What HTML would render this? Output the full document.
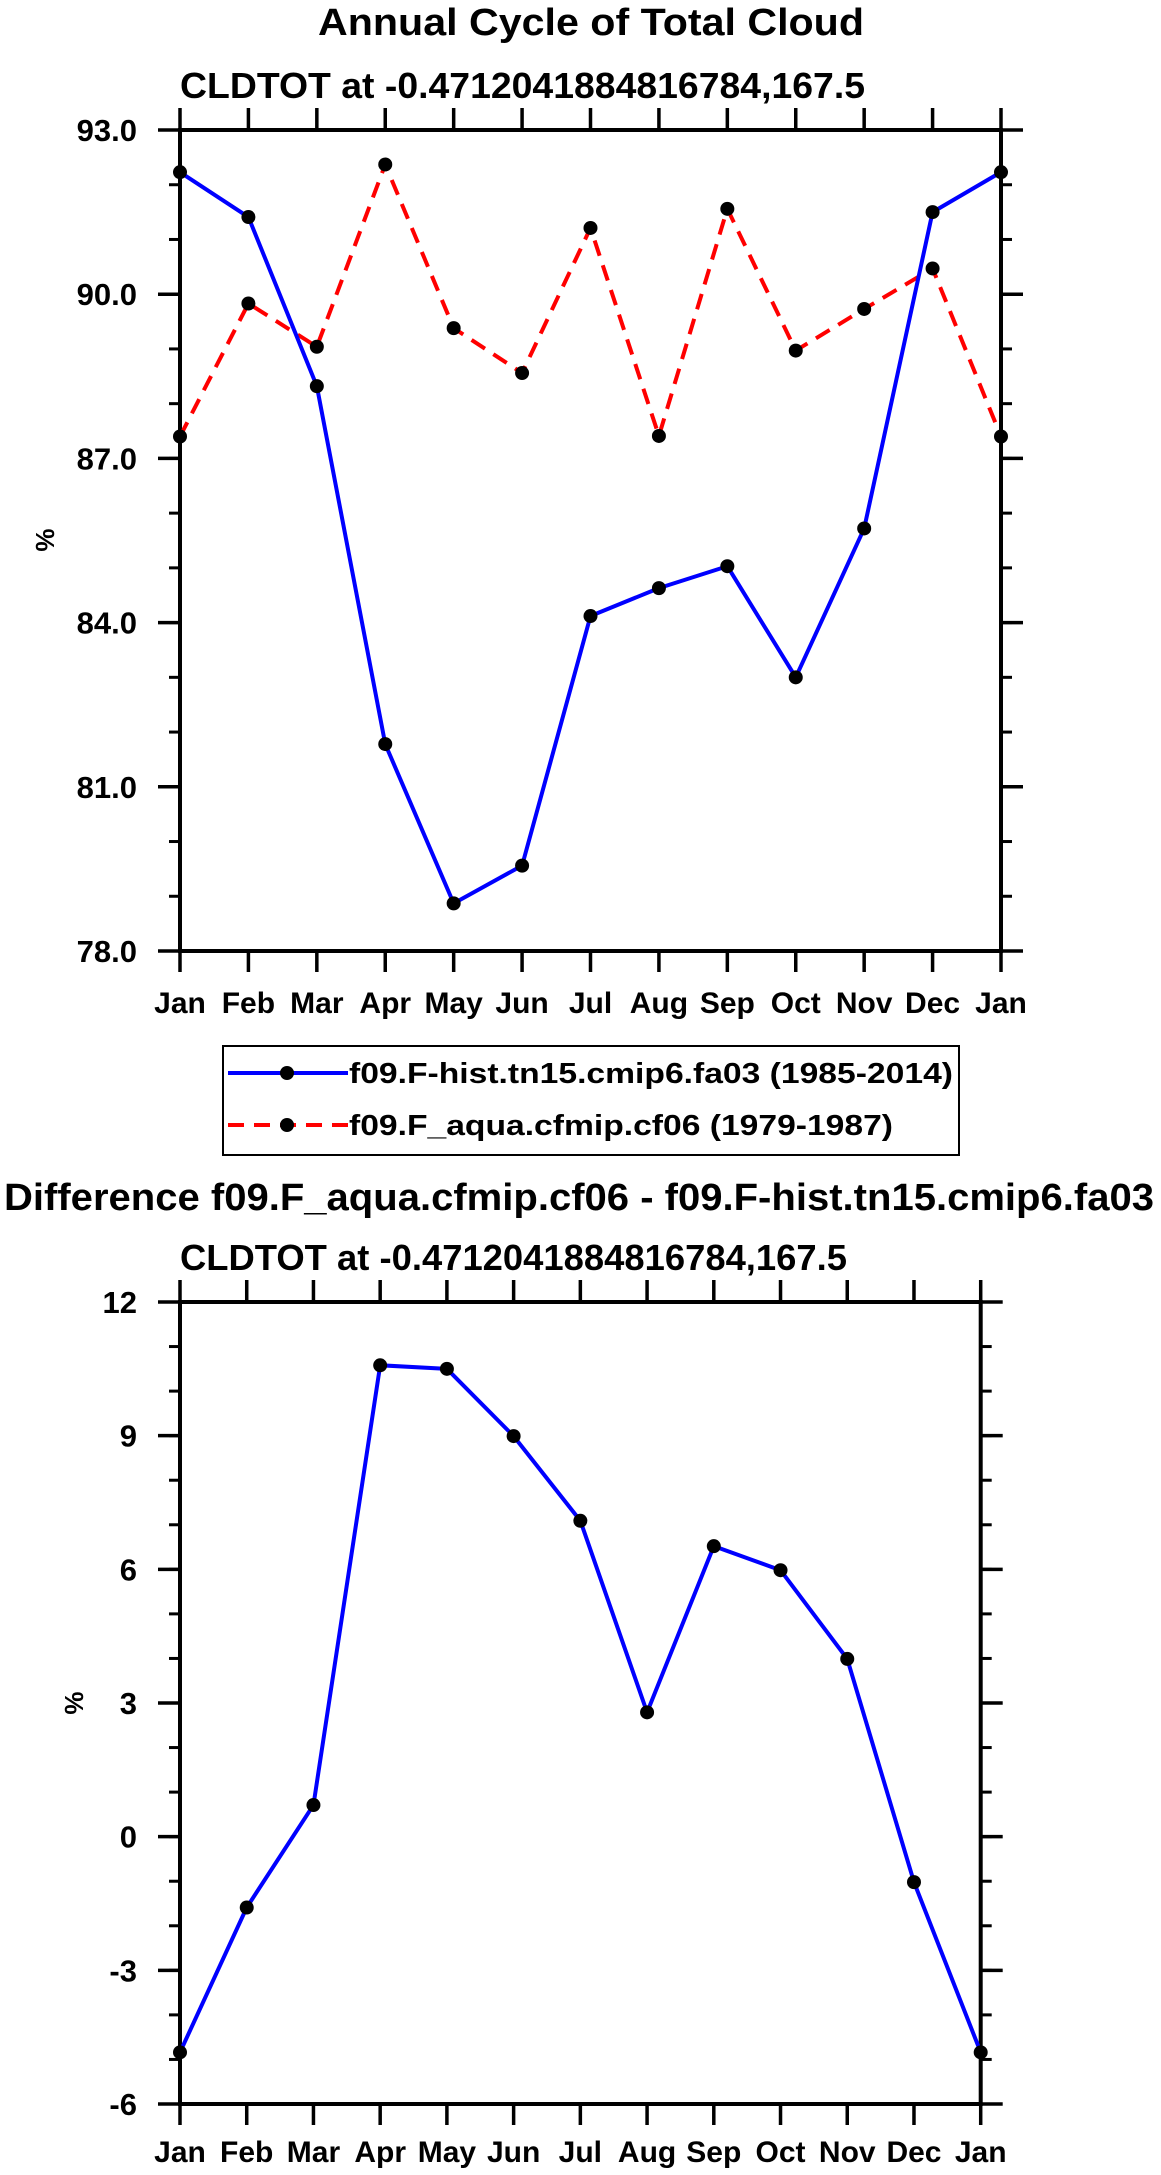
<!DOCTYPE html>
<html><head><meta charset="utf-8"><style>
html,body{margin:0;padding:0;background:#fff;}
svg{display:block;font-family:"Liberation Sans",Arial,sans-serif;font-weight:bold;}
</style></head><body>
<svg id="chart" xmlns="http://www.w3.org/2000/svg" width="1161" height="2175" viewBox="0 0 1161 2175">
<text x="591" y="35" font-size="38" text-anchor="middle" textLength="546" lengthAdjust="spacingAndGlyphs">Annual Cycle of Total Cloud</text>
<text x="180" y="98" font-size="36" textLength="685" lengthAdjust="spacingAndGlyphs">CLDTOT at -0.4712041884816784,167.5</text>
<text x="0" y="0" font-size="26" text-anchor="middle" transform="translate(54,540) rotate(-90)">%</text>
<g id="top"></g>
<rect x="223" y="1046" width="736" height="109" fill="none" stroke="#000" stroke-width="2"/>
<g>
<line x1="228" y1="1073" x2="348" y2="1073" stroke="#0000ff" stroke-width="4"/>
<circle cx="287" cy="1073" r="7"/>
<text x="349" y="1083" font-size="29" textLength="604" lengthAdjust="spacingAndGlyphs">f09.F-hist.tn15.cmip6.fa03 (1985-2014)</text>
</g>
<g>
<line x1="228" y1="1125" x2="348" y2="1125" stroke="#ff0000" stroke-width="4" stroke-dasharray="16,10"/>
<circle cx="287" cy="1125" r="7"/>
<text x="349" y="1135" font-size="29" textLength="544" lengthAdjust="spacingAndGlyphs">f09.F_aqua.cfmip.cf06 (1979-1987)</text>
</g>
<text x="4" y="1210" font-size="38" textLength="1150" lengthAdjust="spacingAndGlyphs">Difference f09.F_aqua.cfmip.cf06 - f09.F-hist.tn15.cmip6.fa03</text>
<text x="180" y="1270" font-size="36" textLength="667" lengthAdjust="spacingAndGlyphs">CLDTOT at -0.4712041884816784,167.5</text>
<text x="0" y="0" font-size="26" text-anchor="middle" transform="translate(83,1703) rotate(-90)">%</text>
<g id="bot"></g>
</svg>
<script>
const months = ["Jan","Feb","Mar","Apr","May","Jun","Jul","Aug","Sep","Oct","Nov","Dec","Jan"];
const histValues = [92.23,91.41,88.32,81.78,78.87,79.56,84.12,84.63,85.03,83.0,85.72,91.5,92.23];
const aquaValues = [87.40,89.83,89.04,92.37,89.38,88.56,91.21,87.41,91.56,88.97,89.73,90.47,87.40];
const diffValues = [-4.84,-1.59,0.71,10.58,10.50,8.99,7.09,2.79,6.52,5.98,3.99,-1.02,-4.84];
const topTicks = ["78.0","81.0","84.0","87.0","90.0","93.0"];
const botTicks = ["-6","-3","0","3","6","9","12"];

const NS="http://www.w3.org/2000/svg";
function mk(parent,tag,attrs){const e=document.createElementNS(NS,tag);for(const k in attrs)e.setAttribute(k,attrs[k]);parent.appendChild(e);return e;}

function drawPanel(g,P,ticks,series,prefix){
  const xs=i=>P.x0+(P.x1-P.x0)*i/(months.length-1);
  const ys=v=>P.y1-(v-P.vmin)/(P.vmax-P.vmin)*(P.y1-P.y0);
  // minor ticks
  for(let v=P.vmin;v<=P.vmax+1e-9;v+=1){
    const y=ys(v);
    const t=mk(g,'line',{x1:P.x0-11,x2:P.x0,y1:y,y2:y,stroke:'#000','stroke-width':3});
    
    
    const t2=mk(g,'line',{x1:P.x1,x2:P.x1+11,y1:y,y2:y,stroke:'#000','stroke-width':3});
    
    
  }
  ticks.forEach(lbl=>{
    const v=parseFloat(lbl),y=ys(v);
    const a=mk(g,'line',{x1:P.x0-22,x2:P.x0,y1:y,y2:y,stroke:'#000','stroke-width':3.5});
    
    
    const b=mk(g,'line',{x1:P.x1,x2:P.x1+22,y1:y,y2:y,stroke:'#000','stroke-width':3.5});
    
    
    const t=mk(g,'text',{x:137,y:y+11,'font-size':31,'text-anchor':'end'});
    t.textContent=lbl;
    
    
  });
  months.forEach((m,i)=>{
    const x=xs(i);
    const a=mk(g,'line',{x1:x,x2:x,y1:P.y1,y2:P.y1+21,stroke:'#000','stroke-width':3.5});
    
    
    const b=mk(g,'line',{x1:x,x2:x,y1:P.y0-22,y2:P.y0,stroke:'#000','stroke-width':3.5});
    
    
    const t=mk(g,'text',{x:x,y:P.lblY,'font-size':30,'text-anchor':'middle'});
    t.textContent=m;
    
    
  });
  const fr=mk(g,'rect',{x:P.x0,y:P.y0,width:P.x1-P.x0,height:P.y1-P.y0,fill:'none',stroke:'#000','stroke-width':4});
  
  
  series.forEach(s=>{
    const pts=s.vals.map((v,i)=>xs(i)+','+ys(v)).join(' ');
    const l=mk(g,'polyline',{points:pts,fill:'none',stroke:s.color,'stroke-width':4,'stroke-dasharray':s.dash||'none','stroke-linejoin':'round'});
    
    
  });
  series.forEach(s=>{
    s.vals.forEach((v,i)=>{
      const c=mk(g,'circle',{cx:xs(i),cy:ys(v),r:7,fill:'#000'});
      
      
    });
  });
}
drawPanel(document.getElementById('top'),{x0:180,x1:1001,y0:130,y1:951,vmin:78,vmax:93,lblY:1013},topTicks,
  [{vals:aquaValues,color:'#ff0000',dash:'16,10',name:'aqua'},{vals:histValues,color:'#0000ff',name:'hist'}],'top');
drawPanel(document.getElementById('bot'),{x0:180,x1:980.7,y0:1302,y1:2104,vmin:-6,vmax:12,lblY:2162},botTicks,
  [{vals:diffValues,color:'#0000ff',name:'diff'}],'diff');
</script>
</body></html>
